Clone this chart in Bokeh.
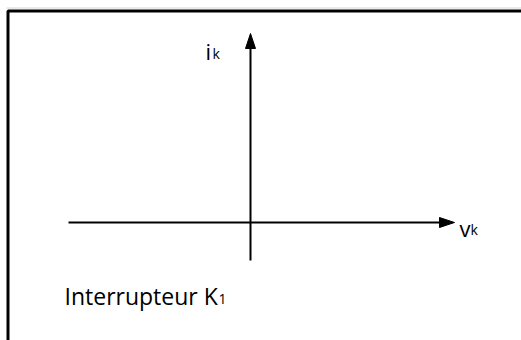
from bokeh.plotting import figure
from bokeh.models import Range1d
from bokeh.embed import file_html
from bokeh.resources import INLINE
from bokeh.core.properties import value

# Diagram content: two axes (current i_k vertical, voltage v_k horizontal)
axis_names = ["i", "v"]
axis_subscripts = ["k", "k"]
caption_main = "Interrupteur K"
caption_sub = "1"

# geometry in page pixels
frame_x = [7.5, 7.5, 521]
frame_y = [340, 10.5, 10.5]
shadow_x = [6, 521]
shadow_y = [7.5, 7.5]
v_axis_x = [250, 250]
v_axis_y = [260, 46]
h_axis_x = [68, 441]
h_axis_y = [222, 222]
v_head_x = [245, 250, 255]
v_head_y = [48, 33, 48]
h_head_x = [439, 454, 439]
h_head_y = [217, 222, 227]

p = figure(width=521, height=340, output_backend="svg", toolbar_location=None,
           x_range=Range1d(0, 521), y_range=Range1d(340, 0),
           min_border=0, outline_line_color=None, background_fill_color="white",
           border_fill_color="white")
p.xaxis.visible = False
p.yaxis.visible = False
p.grid.visible = False

font = value("Open Sans")

p.line(shadow_x, shadow_y, line_color="#d4d4d4", line_width=1)
p.line(frame_x, frame_y, line_color="black", line_width=3)
p.line(v_axis_x, v_axis_y, line_color="black", line_width=2)
p.line(h_axis_x, h_axis_y, line_color="black", line_width=2)
p.patch(v_head_x, v_head_y, fill_color="black", line_color="black", line_width=1)
p.patch(h_head_x, h_head_y, fill_color="black", line_color="black", line_width=1)

# axis labels
p.text(x=[205, 459], y=[50, 227], text=axis_names, text_font=font,
       text_font_size="22px", text_color="#000000", text_baseline="alphabetic")
p.text(x=[212, 470], y=[53, 229], text=axis_subscripts, text_font=font,
       text_font_size="14px", text_color="#000000", text_baseline="alphabetic")

# caption
p.text(x=[64], y=[295], text=[caption_main], text_font=font,
       text_font_size="23px", text_color="#000000", text_baseline="alphabetic")
p.text(x=[218], y=[298], text=[caption_sub], text_font=font,
       text_font_size="14px", text_color="#000000", text_baseline="alphabetic")

open("out.html", "w").write(file_html(p, INLINE))
